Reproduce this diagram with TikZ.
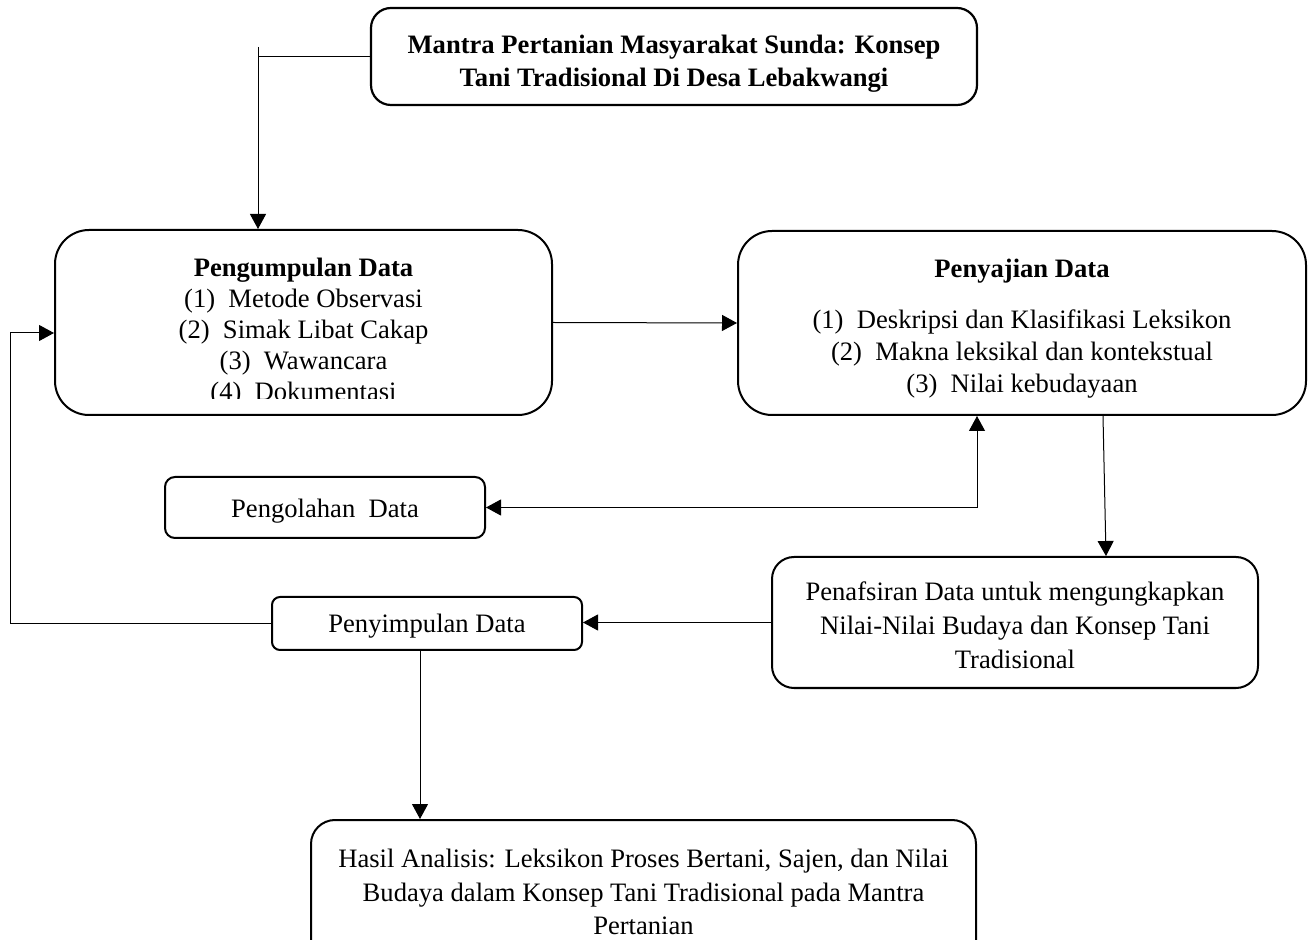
\documentclass[tikz,border=0pt]{standalone}
\usepackage{fontspec}
\setmainfont{Liberation Serif}
\usetikzlibrary{arrows.meta}

\begin{document}
\begin{tikzpicture}[x=0.5pt, y=-0.5pt,
kotak/.style={draw, line width=1pt, inner sep=0pt},
teks/.style={align=center, inner sep=0pt, font=\fontsize{13.3}{16}\selectfont},
garis/.style={line width=0.5pt},
>={Triangle[length=7.5pt,width=8pt]}
]
\useasboundingbox (0,0) rectangle (1312,940);

% kotak-kotak
\node (judul) [kotak, line width=1.1pt, rounded corners=10pt, minimum width=303pt, minimum height=48.5pt] at (674,56.5) {};
\node (judulteks) [teks, font=\fontsize{13.3}{16.5}\selectfont\bfseries, yshift=-3.5pt] at (judul.center)
  {Mantra Pertanian Masyarakat Sunda: Konsep\\Tani Tradisional Di Desa Lebakwangi};

\node (kumpul) [kotak, rounded corners=17pt, minimum width=248.5pt, minimum height=92.5pt] at (303.5,322.5) {};
\begin{scope}
\clip (60,236) rectangle (547,398.5);
\node (kumpulteks) [teks, font=\fontsize{13.3}{15.5}\selectfont, anchor=north] at (303.5,258)
  {\textbf{Pengumpulan Data}\\(1)\ \ Metode Observasi\\(2)\ \ Simak Libat Cakap\\(3)\ \ Wawancara\\(4)\ \ Dokumentasi};
\end{scope}

\node (saji) [kotak, rounded corners=17pt, minimum width=284pt, minimum height=92pt] at (1022,323) {};
\node (sajiteks) [teks, yshift=-2.75pt] at (saji.center)
  {\textbf{Penyajian Data}\\[9.5pt](1)\ \ Deskripsi dan Klasifikasi Leksikon\\(2)\ \ Makna leksikal dan kontekstual\\(3)\ \ Nilai kebudayaan};

\node (olah) [kotak, rounded corners=5pt, minimum width=160pt, minimum height=30.5pt] at (325,507.5) {};
\node (olahteks) [teks, yshift=-1.75pt] at (olah.center) {Pengolahan\ \ Data};

\node (tafsir) [kotak, rounded corners=11pt, minimum width=243pt, minimum height=65.5pt] at (1015,622.5) {};
\node (tafsirteks) [teks, font=\fontsize{13.3}{17}\selectfont, yshift=-1.25pt] at (tafsir.center)
  {Penafsiran Data untuk mengungkapkan\\Nilai-Nilai Budaya dan Konsep Tani\\Tradisional};

\node (simpul) [kotak, rounded corners=4pt, minimum width=155pt, minimum height=26.5pt] at (427,623.5) {};
\node (simpulteks) [teks, yshift=-1.5pt] at (simpul.center) {Penyimpulan Data};

\node (hasil) [kotak, rounded corners=12pt, minimum width=332.5pt, minimum height=72pt] at (643.5,892) {};
\node (hasilteks) [teks, font=\fontsize{13.3}{16.7}\selectfont] at (hasil.center)
  {Hasil Analisis: Leksikon Proses Bertani, Sajen, dan Nilai\\Budaya dalam Konsep Tani Tradisional pada Mantra\\Pertanian};

% garis penghubung
\coordinate (tik) at (258,47);
\coordinate (kiri) at (10,0);
\draw[garis] (judul.west) -- (judul.west -| tik);
\draw[garis, ->] (tik) -- (kumpul.north -| tik);
\draw[garis, ->] (kumpul.east) -- (saji.west);
\draw[garis, <->] (olah.east) -| ([xshift=-22.5pt]saji.south);
\draw[garis, ->] ([xshift=40.5pt]saji.south) -- ([xshift=45.5pt]tafsir.north);
\draw[garis, ->] (tafsir.west) -- (tafsir.west -| simpul.east);
\draw[garis, ->] (simpul.west) -| (kiri |- simpul.west) |- ([yshift=-5.25pt]kumpul.west);
\draw[garis, ->] ([xshift=-3.5pt]simpul.south) -- ([xshift=-3.5pt]simpul.south |- hasil.north);
\end{tikzpicture}
\end{document}
